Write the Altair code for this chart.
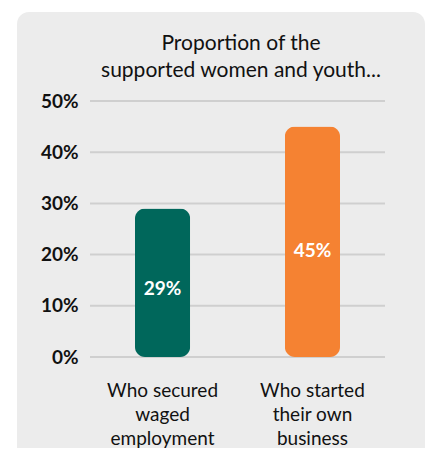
import altair as alt
import pandas as pd

categories = ["Who secured\nwaged\nemployment", "Who started\ntheir own\nbusiness"]
values = [0.29, 0.45]
bar_labels = ["29%", "45%"]
colors = ["#00675B", "#F58232"]
y_ticks = [0, 0.1, 0.2, 0.3, 0.4, 0.5]
title_lines = ["Proportion of the", "supported women and youth..."]

df = pd.DataFrame({"cat": categories, "value": values, "label": bar_labels, "color": colors})
grid_df = pd.DataFrame({"tick": y_ticks})

FONT = "Lato"

panel = alt.Chart(alt.Data(values=[{}])).mark_rect(
    color="#ececec", cornerRadius=12
).encode(
    x=alt.value(-73), x2=alt.value(335), y=alt.value(-89), y2=alt.value(360)
)

title = alt.Chart(alt.Data(values=[{}])).mark_text(
    text=title_lines, font=FONT, fontSize=21, color="#111111",
    align="center", baseline="alphabetic", lineHeight=27,
).encode(x=alt.value(151), y=alt.value(-51))

y_scale = alt.Scale(domain=[0, 0.5])
y_axis = alt.Axis(
    values=y_ticks, format=".0%", labelFont=FONT, labelFontSize=19,
    labelFontWeight="bold", labelColor="#111111", labelPadding=12,
    ticks=False, domain=False, grid=False, zindex=2,
)

grid = alt.Chart(grid_df).mark_rule(color="#cfcfcf", strokeWidth=2).encode(
    y=alt.Y("tick:Q", scale=y_scale, axis=y_axis, title=None)
)

base = alt.Chart(df)

x_enc = alt.X(
    "cat:N", sort=categories, title=None,
    scale=alt.Scale(paddingInner=0.632, paddingOuter=0.30),
    axis=alt.Axis(
        labelExpr="split(datum.label, '\\n')",
        labelAngle=0, labelFont=FONT, labelFontSize=19, labelColor="#111111",
        labelLineHeight=24, labelPadding=24, ticks=False, domain=False, grid=False,
        zindex=2,
    ),
)

bars = base.mark_bar(cornerRadius=10).encode(
    x=x_enc,
    y=alt.Y("value:Q", title=None, scale=y_scale, axis=y_axis),
    color=alt.Color("color:N", scale=None),
)

text = base.transform_calculate(pos="datum.value * 0.46").mark_text(
    font=FONT, fontSize=19, fontWeight="bold", color="white"
).encode(
    x=alt.X("cat:N", sort=categories),
    y=alt.Y("pos:Q", scale=y_scale, axis=y_axis, title=None),
    text="label:N",
)

chart = alt.layer(panel, title, grid, bars, text).properties(
    width=295, height=256,
    autosize=alt.AutoSizeParams(type="none"),
    padding={"left": 82, "top": 93, "right": 40, "bottom": 91},
    background="white",
).configure_view(stroke=None)

chart.save("out.html", embed_options={"renderer": "svg", "actions": False})
